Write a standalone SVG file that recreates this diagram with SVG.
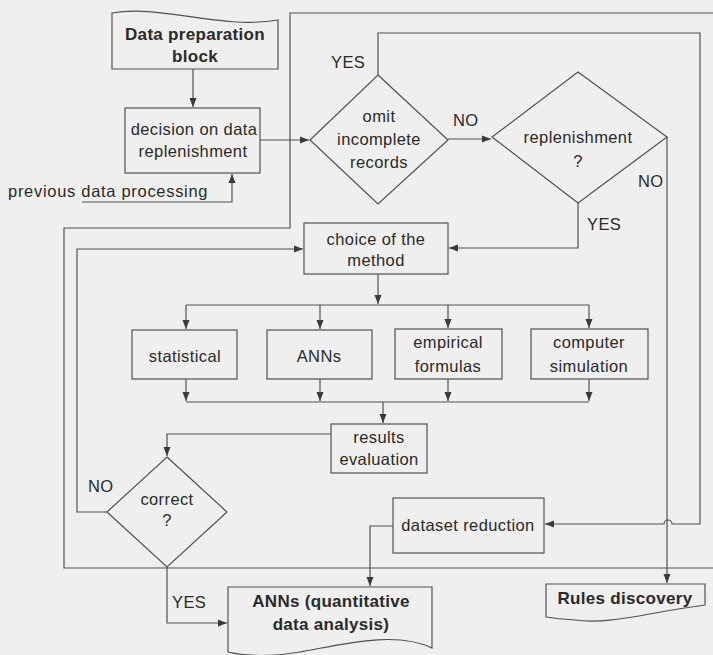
<svg xmlns="http://www.w3.org/2000/svg" width="713" height="655" viewBox="0 0 713 655">
<defs>
<marker id="ah" markerWidth="10" markerHeight="8" refX="9" refY="4" orient="auto" markerUnits="userSpaceOnUse">
<path d="M0,0.5 L9,4 L0,7.5 Z" fill="#3a3a3a"/>
</marker>
<style>
.bg{fill:#efefef}
.shape{fill:none;stroke:#505050;stroke-width:1.2}
.line{fill:none;stroke:#505050;stroke-width:1.2}
.arr{marker-end:url(#ah)}
text{font-family:"Liberation Sans",Arial,sans-serif;fill:#2a2a2a}
.t{font-size:16.5px;letter-spacing:0.4px;text-anchor:middle}
.b{font-size:17px;font-weight:bold;letter-spacing:0.3px;text-anchor:middle}
.lab{font-size:16.5px;letter-spacing:0.4px}
</style>
</defs>
<rect class="bg" x="0" y="0" width="713" height="655"/>

<g id="frame">
<path class="line" d="M720,13 H290 V228 H64 V568 H720"/>
</g>

<g id="connectors">
<path class="line arr" d="M193,69 V107"/>
<path class="line arr" d="M82,202 H232 V174"/>
<path class="line arr" d="M260,140 H309"/>
<path class="line arr" d="M448,139 H491"/>
<path class="line arr" d="M378,75 V33 H700 V524 H672 A4,4 0 0 0 664,524 H545"/>
<path class="line arr" d="M667,137 V583"/>
<path class="line arr" d="M578,203 V248 H449"/>
<path class="line arr" d="M107,512 H77 V249 H303"/>
<path class="line arr" d="M378,274 V304"/>
<path class="line" d="M186,305 H589"/>
<path class="line arr" d="M186,305 V329"/>
<path class="line arr" d="M320,305 V329"/>
<path class="line arr" d="M448,305 V328"/>
<path class="line arr" d="M589,305 V328"/>
<path class="line arr" d="M186,379 V401"/>
<path class="line arr" d="M320,379 V401"/>
<path class="line arr" d="M448,379 V401"/>
<path class="line arr" d="M589,379 V401"/>
<path class="line" d="M186,402 H589"/>
<path class="line arr" d="M383,402 V423"/>
<path class="line arr" d="M331,434 H167 V456"/>
<path class="line arr" d="M393,526 H370 V586"/>
<path class="line arr" d="M167,567 V623 H227"/>
</g>

<g id="data-preparation">
<path class="shape" d="M112,69 V13 C160,4 220,30 278,20 V69 Z"/>
<text class="b" x="195" y="40">Data preparation</text>
<text class="b" x="195" y="62">block</text>
</g>

<g id="decision">
<rect class="shape" x="125" y="108" width="135" height="65"/>
<text class="t" x="194" y="135">decision on data</text>
<text class="t" x="193" y="157">replenishment</text>
</g>

<g id="previous">
<text class="lab" x="8" y="197" style="letter-spacing:0.7px">previous data processing</text>
</g>

<g id="omit">
<path class="shape" d="M378,75 L448,140 L378,204 L310,140 Z"/>
<text class="t" x="379" y="122">omit</text>
<text class="t" x="379" y="145">incomplete</text>
<text class="t" x="379" y="168">records</text>
</g>

<g id="replenishment">
<path class="shape" d="M578,72 L667,137 L578,203 L492,137 Z"/>
<text class="t" x="578" y="143">replenishment</text>
<text class="t" x="578" y="167">?</text>
</g>

<g id="choice">
<rect class="shape" x="304" y="223" width="144" height="51"/>
<text class="t" x="376" y="245">choice of the</text>
<text class="t" x="376" y="266">method</text>
</g>

<g id="statistical">
<rect class="shape" x="132" y="330" width="105" height="49"/>
<text class="t" x="185" y="362">statistical</text>
</g>

<g id="anns">
<rect class="shape" x="267" y="330" width="105" height="49"/>
<text class="t" x="319" y="362">ANNs</text>
</g>

<g id="empirical">
<rect class="shape" x="395" y="329" width="107" height="50"/>
<text class="t" x="448" y="348">empirical</text>
<text class="t" x="448" y="372">formulas</text>
</g>

<g id="simulation">
<rect class="shape" x="531" y="329" width="117" height="50"/>
<text class="t" x="589" y="348">computer</text>
<text class="t" x="589" y="372">simulation</text>
</g>

<g id="results">
<rect class="shape" x="331" y="424" width="96" height="49"/>
<text class="t" x="379" y="443">results</text>
<text class="t" x="379" y="465">evaluation</text>
</g>

<g id="correct">
<path class="shape" d="M167,457 L227,512 L167,567 L107,512 Z"/>
<text class="t" x="167" y="505">correct</text>
<text class="t" x="167" y="526">?</text>
</g>

<g id="dataset-reduction">
<rect class="shape" x="393" y="498" width="151" height="55"/>
<text class="t" x="468" y="531">dataset reduction</text>
</g>

<g id="anns-quant">
<path class="shape" d="M228,587 H432 V648 C395,630 340,645 300,652 C270,657 245,656 228,652 Z"/>
<text class="b" x="331" y="607">ANNs (quantitative</text>
<text class="b" x="331" y="630">data analysis)</text>
</g>

<g id="rules">
<path class="shape" d="M546,584 H705 V605 C650,612 610,625 575,620 C560,619 552,618 546,617 Z"/>
<text class="b" x="625" y="604">Rules discovery</text>
</g>

<g id="labels">
<text class="lab" x="331" y="68">YES</text>
<text class="lab" x="453" y="126">NO</text>
<text class="lab" x="638" y="187">NO</text>
<text class="lab" x="587" y="230">YES</text>
<text class="lab" x="88" y="492">NO</text>
<text class="lab" x="172" y="608">YES</text>
</g>
</svg>
